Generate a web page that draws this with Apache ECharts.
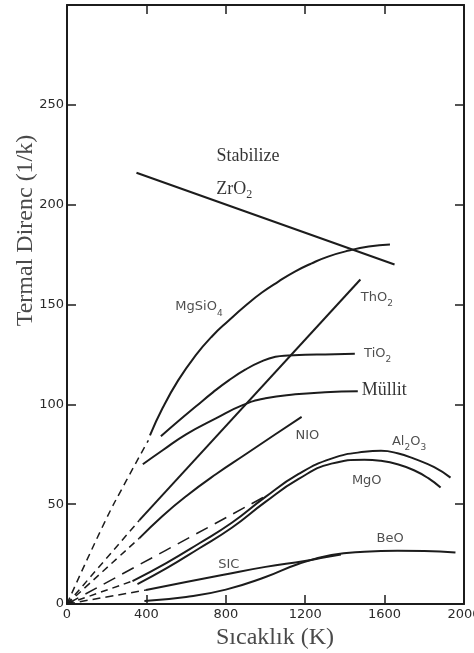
<!DOCTYPE html>
<html>
<head>
<meta charset="utf-8">
<script src="https://cdn.jsdelivr.net/npm/echarts@6/dist/echarts.min.js"></script>
<style>
html,body{margin:0;padding:0;background:#fff;}
#chart{width:474px;height:653px;}
</style>
</head>
<body>
<div id="chart"></div>
<script>
// ---- data (x: temperature K, y: thermal resistance) ----
const xTicks = [0, 400, 800, 1200, 1600, 2000];
const yTicks = [0, 50, 100, 150, 200, 250];

const zrO2    = [[350, 216], [1650, 170]];
const mgSiO4  = [[418, 84.5], [481, 98], [560, 112], [648, 124.5], [730, 134], [815, 142], [900, 149.5], [982, 156], [1065, 161.5], [1148, 166.5], [1230, 170.5], [1315, 174], [1420, 177], [1520, 179], [1627, 180]];
const thO2    = [[365, 42], [1478, 162.5]];
const tiO2    = [[473, 84], [560, 91.5], [650, 99], [735, 106], [815, 112], [900, 117.5], [980, 121.5], [1050, 123.8], [1115, 124.5], [1200, 124.8], [1300, 125], [1450, 125.3]];
const mullit  = [[382, 70], [482, 77], [600, 85], [750, 93], [882, 99.5], [1000, 103], [1150, 105], [1300, 106], [1465, 106.5]];
const niO     = [[365, 33], [480, 44], [600, 54], [750, 65], [900, 75], [1050, 85], [1182, 93.7]];
const al2O3   = [[330, 11.5], [500, 20.5], [665, 30.3], [832, 40.8], [998, 53.5], [1165, 65], [1332, 72.8], [1498, 76.2], [1582, 76.7], [1665, 75.5], [1748, 72.8], [1850, 68.5], [1932, 63.3]];
const mgO     = [[355, 10], [500, 17.8], [665, 27.8], [832, 38.3], [998, 51], [1165, 62.5], [1332, 70.3], [1498, 72.3], [1582, 71.7], [1665, 70], [1748, 67], [1820, 63], [1882, 58.3]];
const beO     = [[390, 1.5], [600, 3.5], [800, 7.2], [1000, 13.5], [1165, 20], [1332, 24.5], [1498, 26.2], [1665, 26.7], [1800, 26.6], [1957, 25.8]];
const siC     = [[398, 7], [600, 11], [782, 14.5], [1000, 18.6], [1198, 21.5], [1300, 23.4], [1380, 24.8]];

// dashed extrapolations to the origin
const mgSiO4Dash = [[0, 0], [190, 41], [300, 62], [410, 82]];
const thO2Dash   = [[0, 0], [365, 42]];
const niODash    = [[0, 0], [365, 33]];
const al2O3Dash  = [[0, 0], [1000, 54]];
const mgODash    = [[0, 0], [330, 11.5]];
const siCDash    = [[0, 0], [398, 7]];

// curve labels: text parts alternate normal / subscript
const labelParts = [['Stabilize'], ['ZrO', '2'], ['MgSiO', '4'], ['ThO', '2'], ['TiO', '2'], ['Müllit'], ['NIO'], ['Al', '2', 'O', '3'], ['MgO'], ['BeO'], ['SIC']];
const labelX     = [912, 842, 665, 1561, 1565, 1598, 1211, 1723, 1510, 1628, 815];
const labelY     = [224, 207.5, 148.7, 153.6, 125.5, 107, 84.5, 81.5, 62, 32.8, 19.5];
const labelFont  = ['serif', 'serif', 'sans', 'sans', 'sans', 'serif', 'sans', 'sans', 'sans', 'sans', 'sans'];

const xTitle = 'Sıcaklık (K)';
const yTitle = 'Termal Direnc (1/k)';

// ---- chart ----
const chart = echarts.init(document.getElementById('chart'), null, {renderer: 'canvas'});
const ink = '#1c1c1c';
const solid = (name, data) => ({
  name, type: 'line', data, showSymbol: false, smooth: 0.5,
  lineStyle: {color: ink, width: 2}, silent: true, z: 3
});
const dashed = (name, data, pattern) => ({
  name, type: 'line', data, showSymbol: false, smooth: 0.5,
  lineStyle: {color: ink, width: 1.5, type: pattern}, silent: true, z: 3
});

const labelData = labelParts.map((parts, i) => {
  const kind = labelFont[i];
  const txt = parts.map((p, j) => '{' + kind + (j % 2 ? 'S' : 'M') + '|' + p + '}').join('');
  return {value: [labelX[i], labelY[i]], label: {formatter: txt}};
});

const axisLineStyle = {color: ink, width: 2};
const tickStyle = {inside: true, length: 9, lineStyle: {color: ink, width: 1.5}};
const tickFont = {fontFamily: 'DejaVu Sans', fontSize: 13, color: '#2a2a2a'};

chart.setOption({
  animation: false,
  backgroundColor: '#ffffff',
  grid: {left: 67, right: 10, top: 5, bottom: 49, containLabel: false, outerBoundsMode: 'none'},
  xAxis: [
    {type: 'value', position: 'bottom', min: xTicks[0], max: xTicks[xTicks.length - 1], interval: 400,
     axisLine: {show: true, onZero: false, lineStyle: axisLineStyle}, axisTick: tickStyle,
     splitLine: {show: false},
     axisLabel: Object.assign({margin: 4, showMaxLabel: true, hideOverlap: false, formatter: v => String(v)}, tickFont),
     name: xTitle, nameLocation: 'middle', nameGap: 21,
     nameTextStyle: {fontFamily: 'Liberation Serif', fontSize: 24, color: '#4a4a4a', padding: [0, 0, 0, 19]}},
    {type: 'value', position: 'top', min: xTicks[0], max: xTicks[xTicks.length - 1], interval: 400,
     axisLine: {show: true, onZero: false, lineStyle: axisLineStyle}, axisTick: tickStyle,
     splitLine: {show: false}, axisLabel: {show: false}}
  ],
  yAxis: [
    {type: 'value', position: 'left', min: 0, max: 300, interval: 50,
     axisLine: {show: true, onZero: false, lineStyle: axisLineStyle}, axisTick: tickStyle,
     splitLine: {show: false},
     axisLabel: Object.assign({margin: 3, formatter: v => (yTicks.indexOf(v) >= 0 ? String(v) : '')}, tickFont),
     name: yTitle, nameLocation: 'middle', nameGap: 29, nameRotate: 90, nameMoveOverlap: false,
     nameTextStyle: {fontFamily: 'Liberation Serif', fontSize: 24, color: '#4a4a4a', padding: [0, 0, 0, 148]}},
    {type: 'value', position: 'right', min: 0, max: 300, interval: 50,
     axisLine: {show: true, onZero: false, lineStyle: axisLineStyle}, axisTick: tickStyle,
     splitLine: {show: false}, axisLabel: {show: false}}
  ],
  series: [
    solid('ZrO2', zrO2),
    solid('MgSiO4', mgSiO4),
    solid('ThO2', thO2),
    solid('TiO2', tiO2),
    solid('Müllit', mullit),
    solid('NiO', niO),
    solid('Al2O3', al2O3),
    solid('MgO', mgO),
    solid('BeO', beO),
    solid('SiC', siC),
    dashed('MgSiO4 ext', mgSiO4Dash, [7, 5]),
    dashed('ThO2 ext', thO2Dash, [7, 5]),
    dashed('NiO ext', niODash, [7, 5]),
    dashed('Al2O3 ext', al2O3Dash, [13, 8]),
    dashed('MgO ext', mgODash, [7, 5]),
    dashed('SiC ext', siCDash, [8, 5]),
    {
      type: 'scatter', data: labelData, symbolSize: 1, itemStyle: {color: 'rgba(0,0,0,0)'},
      silent: true, z: 5,
      label: {
        show: true, position: 'inside', align: 'center', verticalAlign: 'middle',
        rich: {
          serifM: {fontFamily: 'Liberation Serif', fontSize: 18, color: '#000', lineHeight: 22},
          serifS: {fontFamily: 'Liberation Serif', fontSize: 12, color: '#000', lineHeight: 12, verticalAlign: 'bottom'},
          sansM:  {fontFamily: 'DejaVu Sans', fontSize: 13, color: '#222', lineHeight: 22},
          sansS:  {fontFamily: 'DejaVu Sans', fontSize: 9, color: '#222', lineHeight: 9, verticalAlign: 'bottom'}
        }
      }
    }
  ]
});
</script>
</body>
</html>
